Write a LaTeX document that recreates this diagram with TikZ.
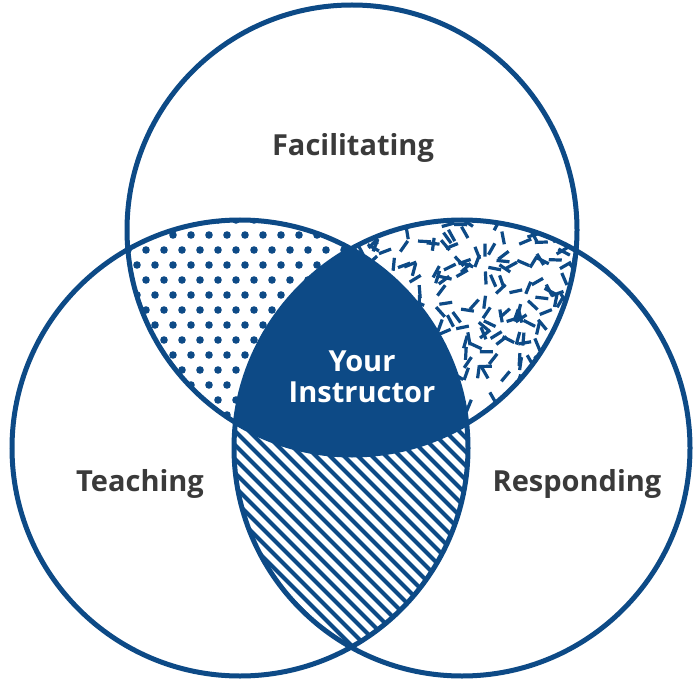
\documentclass[tikz,border=0pt]{standalone}
\usepackage{fontspec}
\setmainfont{Open Sans}
\definecolor{vblue}{HTML}{0D4A86}
\definecolor{vtext}{HTML}{3A3A3A}
\begin{document}
\begin{tikzpicture}[x=1pt,y=-1pt,
  ring/.style={draw=vblue,line width=5pt},
  lbl/.style={font=\fontsize{29}{33}\selectfont\bfseries,text=vtext,align=center}]
\useasboundingbox (0,0) rectangle (700,700);
\def\T{(352,230) circle (225)}
\def\L{(240,448) circle (228)}
\def\R{(462,448) circle (228)}
% dotted: T and L minus R
\begin{scope}
  \clip \T; \clip \L;
  \foreach \r in {0,...,16}{
    \foreach \c in {0,...,14}{
      \pgfmathsetmacro{\xx}{110+\c*18+mod(\r,2)*9}
      \pgfmathsetmacro{\yy}{220+\r*15}
      \fill[vblue] (\xx,\yy) circle (3.8);
    }}
  \fill[white] \R;
\end{scope}
% random dashes: T and R minus L
\begin{scope}
  \clip \T; \clip \R;
  \pgfmathsetseed{7}
  \foreach \i in {1,...,330}{
    \pgfmathsetmacro{\xx}{340+rnd*250}
    \pgfmathsetmacro{\yy}{215+rnd*250}
    \pgfmathsetmacro{\aa}{rnd*180}
    \draw[vblue,line width=3.2pt] (\xx,\yy) -- ++(\aa:13);
  }
  \fill[white] \L;
\end{scope}
% stripes: L and R minus T
\begin{scope}
  \clip \L; \clip \R;
  \foreach \k in {-30,...,40}{
    \draw[vblue,line width=4pt] (150+\k*14,430) -- ++(300,300);
  }
  \fill[white] \T;
\end{scope}
% center
\begin{scope}
  \clip \T; \clip \L;
  \fill[vblue] \R;
\end{scope}
\draw[ring] \T; \draw[ring] \L; \draw[ring] \R;
\node[lbl] (fac) at (353,148) {Facilitating};
\node[lbl] (tea) at (140,484) {Teaching};
\node[lbl] (res) at (577,484) {Responding};
\node[lbl,text=white,font=\fontsize{29}{31}\selectfont\bfseries] (you) at (362,377) {Your\\Instructor};
\end{tikzpicture}
\end{document}
